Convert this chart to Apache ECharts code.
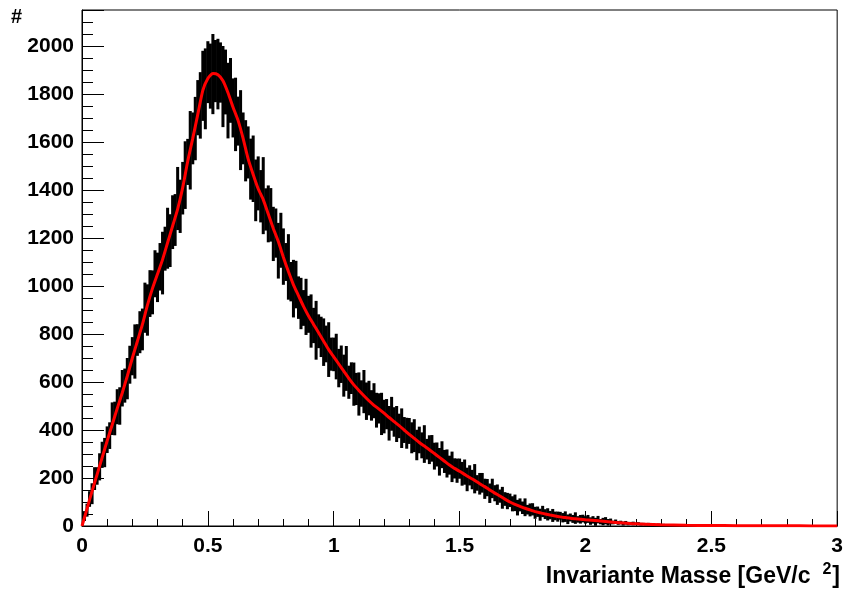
<!DOCTYPE html>
<html>
<head>
<meta charset="utf-8">
<script src="https://cdn.jsdelivr.net/npm/echarts@6/dist/echarts.min.js"></script>
<style>
html, body { margin: 0; padding: 0; background: #ffffff; }
#chart { width: 846px; height: 592px; }
</style>
</head>
<body>
<div id="chart"></div>
<script>
// Histogram of the invariant mass: bins of 0.01 GeV/c^2 starting at 0,
// each bin drawn as its spread (lower / upper edge of the entries incl. error).
const binWidth = 0.01;
const binHigh = [
  4, 62, 93, 145, 178, 245, 245, 303, 351, 367,
  415, 432, 515, 518, 570, 578, 650, 656, 700, 751,
  787, 840, 841, 895, 906, 1014, 1007, 1066, 1065, 1149,
  1139, 1179, 1226, 1247, 1326, 1299, 1378, 1383, 1496, 1443,
  1517, 1603, 1613, 1729, 1723, 1788, 1858, 1891, 1980, 1990,
  2020, 2010, 2050, 2025, 2030, 2015, 2000, 1985, 1930, 1950,
  1865, 1868, 1789, 1816, 1723, 1691, 1665, 1614, 1627, 1527,
  1540, 1483, 1537, 1407, 1419, 1408, 1330, 1323, 1263, 1305,
  1240, 1179, 1216, 1100, 1109, 1105, 1040, 1034, 983, 1030,
  959, 965, 909, 938, 882, 872, 865, 835, 849, 785,
  785, 801, 738, 752, 714, 750, 668, 682, 681, 638,
  640, 607, 650, 598, 605, 566, 595, 555, 553, 555,
  526, 529, 500, 538, 495, 500, 468, 490, 454, 451,
  450, 432, 445, 401, 414, 390, 420, 363, 378, 379,
  347, 348, 325, 353, 317, 319, 293, 310, 282, 281,
  281, 267, 277, 243, 253, 234, 258, 212, 221, 221,
  197, 196, 177, 197, 170, 173, 152, 163, 141, 138,
  135, 124, 131, 109, 115, 102, 115, 88, 94, 95,
  80, 81, 72, 84, 70, 74, 63, 71, 60, 60,
  59, 54, 61, 48, 52, 46, 57, 41, 46, 47,
  41, 46, 36, 41, 34, 42, 29, 34, 37, 29,
  31, 22, 27, 21, 22, 18, 21, 17, 17, 18,
  14, 16, 13, 13, 10, 13, 9, 11, 8, 10,
  8, 9, 7, 8, 6, 8, 5, 7, 5, 6,
  5, 6, 4, 5, 4, 6, 3, 5, 4, 4,
  5
];
const binLow = [
  0, 21, 39, 80, 91, 150, 172, 190, 242, 245,
  304, 321, 379, 378, 424, 422, 498, 514, 528, 593,
  628, 614, 709, 720, 732, 805, 793, 871, 882, 953,
  933, 981, 965, 1064, 1072, 1079, 1154, 1167, 1233, 1221,
  1298, 1321, 1421, 1402, 1507, 1524, 1628, 1614, 1688, 1653,
  1762, 1739, 1716, 1766, 1736, 1764, 1662, 1715, 1615, 1680,
  1619, 1562, 1585, 1483, 1507, 1436, 1448, 1360, 1350, 1270,
  1315, 1265, 1216, 1231, 1182, 1185, 1104, 1118, 1031, 1076,
  1005, 1021, 943, 936, 869, 907, 863, 820, 834, 796,
  805, 743, 762, 693, 741, 704, 667, 682, 621, 647,
  645, 611, 578, 596, 539, 563, 530, 550, 501, 504,
  460, 497, 470, 442, 461, 439, 449, 410, 427, 379,
  386, 403, 356, 397, 372, 350, 366, 325, 346, 322,
  342, 303, 308, 274, 303, 282, 263, 277, 258, 268,
  235, 248, 210, 241, 221, 202, 214, 183, 198, 180,
  197, 168, 172, 145, 169, 153, 136, 147, 131, 139,
  113, 124, 96, 116, 103, 88, 97, 72, 84, 70,
  79, 61, 62, 44, 61, 50, 41, 48, 40, 44,
  30, 38, 22, 37, 29, 23, 28, 17, 24, 18,
  26, 15, 17, 8, 19, 13, 9, 14, 10, 15,
  10, 13, 5, 10, 1, 11, 7, 3, 7, 2,
  7, 7, 9, 5, 7, 2, 6, 3, 5, 3,
  4, 4, 2, 3, 2, 2, 2, 1, 2, 1,
  2, 1, 1, 1, 1, 0, 1, 0, 1, 0,
  0, 0, 1, 0, 0, 1, 0, 0, 1, 0,
  0
];

// Fitted curve: sampled every 0.02 GeV/c^2 from 0 to 2.0, then a sparse tail.
const fitStep = 0.02;
const fitCounts = [
  0, 72, 145, 215, 285, 355, 422, 490, 555, 625,
  700, 770, 840, 920, 990, 1050, 1110, 1180, 1250, 1320,
  1410, 1520, 1615, 1715, 1815, 1865, 1885, 1880, 1855, 1805,
  1745, 1690, 1615, 1530, 1465, 1405, 1360, 1300, 1240, 1185,
  1120, 1060, 1005, 960, 915, 875, 840, 805, 770, 735,
  705, 675, 645, 615, 588, 565, 543, 522, 503, 487,
  470, 452, 435, 418, 400, 382, 365, 348, 333, 318,
  302, 286, 270, 254, 240, 228, 215, 202, 190, 176,
  164, 150, 137, 125, 112, 100, 90, 82, 74, 67,
  60, 55, 50, 46, 42, 38, 35, 32, 30, 28,
  26
];
const fitTailMass = [2.1, 2.2, 2.3, 2.4, 2.5, 2.6, 2.7, 2.8, 2.9, 3.0];
const fitTailCounts = [17, 9, 5, 3, 2, 1.5, 1, 0.7, 0.5, 0.4];

const xTickLabels = ['0', '0.5', '1', '1.5', '2', '2.5', '3'];
const yTickLabels = ['0', '200', '400', '600', '800', '1000', '1200', '1400', '1600', '1800', '2000'];

const FONT = "'Liberation Sans', Arial, Helvetica, sans-serif";

const histData = binHigh.map((h, i) => [+(i * binWidth).toFixed(3), binLow[i], h]);
const fitData = fitCounts.map((c, i) => [+(i * fitStep).toFixed(3), c])
  .concat(fitTailMass.map((m, i) => [m, fitTailCounts[i]]));

const chart = echarts.init(document.getElementById('chart'), null, { renderer: 'canvas' });

const labelStyle = { color: '#000', fontFamily: FONT, fontWeight: 'bold', fontSize: 21 };

chart.setOption({
  animation: false,
  backgroundColor: '#ffffff',
  grid: {
    left: 82, top: 10, right: 6, bottom: 66,
    show: true, borderColor: '#000', borderWidth: 1, backgroundColor: 'transparent'
  },
  xAxis: [
    {
      type: 'value', min: 0, max: 3, interval: 0.5, position: 'bottom',
      axisLine: { show: true, onZero: false, lineStyle: { color: '#000', width: 1 } },
      axisTick: { show: true, inside: true, length: 15, lineStyle: { color: '#000', width: 1 } },
      axisLabel: Object.assign({}, labelStyle, {
        margin: 10,
        formatter: (v) => { const k = Math.round(v / 0.5); return Math.abs(v - k * 0.5) < 1e-6 ? xTickLabels[k] : ''; }
      }),
      splitLine: { show: false }
    },
    {
      type: 'value', min: 0, max: 3, interval: 0.1, position: 'bottom',
      axisLine: { show: false },
      axisTick: { show: true, inside: true, length: 7, lineStyle: { color: '#000', width: 1 } },
      axisLabel: { show: false },
      splitLine: { show: false }
    }
  ],
  yAxis: [
    {
      type: 'value', min: 0, max: 2150, interval: 200, position: 'left',
      axisLine: { show: true, onZero: false, lineStyle: { color: '#000', width: 1 } },
      axisTick: { show: true, inside: true, length: 22, lineStyle: { color: '#000', width: 1 } },
      axisLabel: Object.assign({}, labelStyle, {
        margin: 8,
        formatter: (v) => { const k = Math.round(v / 200); return Math.abs(v - k * 200) < 1e-6 && k < yTickLabels.length ? yTickLabels[k] : ''; }
      }),
      splitLine: { show: false }
    },
    {
      type: 'value', min: 0, max: 2150, interval: 50, position: 'left',
      axisLine: { show: false },
      axisTick: { show: true, inside: true, length: 11, lineStyle: { color: '#000', width: 1 } },
      axisLabel: { show: false },
      splitLine: { show: false }
    }
  ],
  series: [
    {
      type: 'custom',
      name: 'Daten',
      xAxisIndex: 0, yAxisIndex: 0,
      clip: true,
      encode: { x: 0, y: [1, 2] },
      data: histData,
      renderItem: function (params, api) {
        const m = api.value(0);
        const top = api.coord([m - binWidth * 0.6, api.value(2)]);
        const bot = api.coord([m + binWidth * 0.6, api.value(1)]);
        return {
          type: 'rect',
          shape: { x: top[0], y: top[1], width: bot[0] - top[0], height: Math.max(1, bot[1] - top[1]) },
          style: { fill: '#000' }
        };
      },
      z: 2
    },
    {
      type: 'line',
      name: 'Fit',
      xAxisIndex: 0, yAxisIndex: 0,
      data: fitData,
      showSymbol: false,
      symbol: 'none',
      smooth: 0.2,
      lineStyle: { color: '#ff0000', width: 3 },
      clip: true,
      z: 3
    }
  ],
  graphic: [
    {
      type: 'text', left: 11, top: 7,
      style: { text: '#', fill: '#000', font: 'bold 20px ' + FONT }
    },
    {
      type: 'text', x: 840, y: 575,
      style: {
        text: '{t|Invariante Masse [GeV/c}{s|2}{t|]}',
        align: 'right', verticalAlign: 'middle',
        rich: {
          t: { fontFamily: FONT, fontWeight: 'bold', fontSize: 23, fill: '#000', color: '#000', lineHeight: 26, verticalAlign: 'bottom' },
          s: { fontFamily: FONT, fontWeight: 'bold', fontSize: 16, fill: '#000', color: '#000', lineHeight: 26, verticalAlign: 'top', padding: [0, 1, 8, 12] }
        }
      }
    }
  ]
});
</script>
</body>
</html>
